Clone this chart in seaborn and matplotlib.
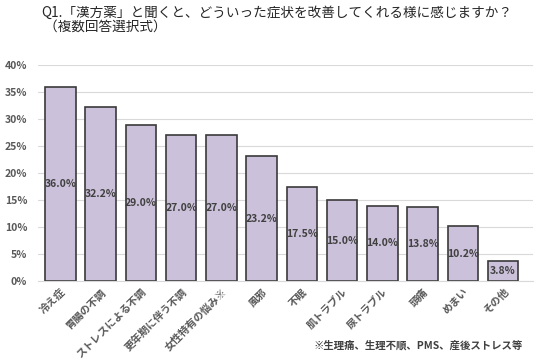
import matplotlib
matplotlib.use("Agg")
import matplotlib.pyplot as plt
import seaborn as sns
import pandas as pd
from matplotlib.ticker import PercentFormatter

# -----------------------------------
# DATA
# -----------------------------------
categories = ["冷え症", "胃腸の不調", "ストレスによる不調", "更年期に伴う不調",
              "女性特有の悩み※", "風邪", "不眠", "肌トラブル", "尿トラブル",
              "頭痛", "めまい", "その他"]
values = [36.0, 32.2, 29.0, 27.0, 27.0, 23.2, 17.5, 15.0, 14.0, 13.8, 10.2, 3.8]

title = "Q1.「漢方薬」と聞くと、どういった症状を改善してくれる様に感じますか？\n （複数回答選択式）"
note = "※生理痛、生理不順、PMS、産後ストレス等"

df = pd.DataFrame({"item": categories, "pct": values})

# -----------------------------------
# VISUAL SETTINGS
# -----------------------------------
sns.set_style("white")
plt.rcParams["font.family"] = ["Noto Sans CJK JP", "DejaVu Sans"]

fig = plt.figure(figsize=(5.47, 3.6), dpi=100)
ax = fig.add_axes([0.07, 0.219, 0.905, 0.60])

sns.barplot(data=df, x="item", y="pct", color="#ccc1da", edgecolor="#3a3a3a",
            linewidth=1.2, width=0.76, saturation=1, ax=ax, zorder=2)

for i, v in enumerate(values):
    ax.text(i, v / 2, f"{v:.1f}%", ha="center", va="center",
            fontsize=7.5, fontweight="bold", color="#404040", zorder=3)

ax.set_ylim(0, 40)
ax.set_yticks(range(0, 41, 5))
ax.yaxis.set_major_formatter(PercentFormatter(decimals=0))
ax.set_xlim(-0.55, 11.75)
ax.grid(axis="y", color="#d9d9d9", linewidth=0.8, zorder=0)
for s in ["top", "right", "left"]:
    ax.spines[s].set_visible(False)
ax.spines["bottom"].set_color("#d9d9d9")
ax.tick_params(axis="both", length=0, colors="#595959")
ax.tick_params(axis="y", labelsize=7.5, pad=8)
ax.tick_params(axis="x", pad=4)
ax.set_xlabel("")
ax.set_ylabel("")
ax.set_xticks(range(len(categories)))
ax.set_xticklabels(categories, rotation=45, ha="right", rotation_mode="anchor",
                   fontsize=7.5, fontweight="bold", color="#595959")
for lab in ax.get_yticklabels():
    lab.set_fontweight("bold")

fig.text(0.075, 0.985, title, ha="left", va="top", fontsize=9.8,
         color="#262626", linespacing=1.05)
fig.text(0.955, 0.04, note, ha="right", va="center", fontsize=7.5,
         fontweight="bold", color="#404040")

fig.savefig("out.png", dpi=100)
